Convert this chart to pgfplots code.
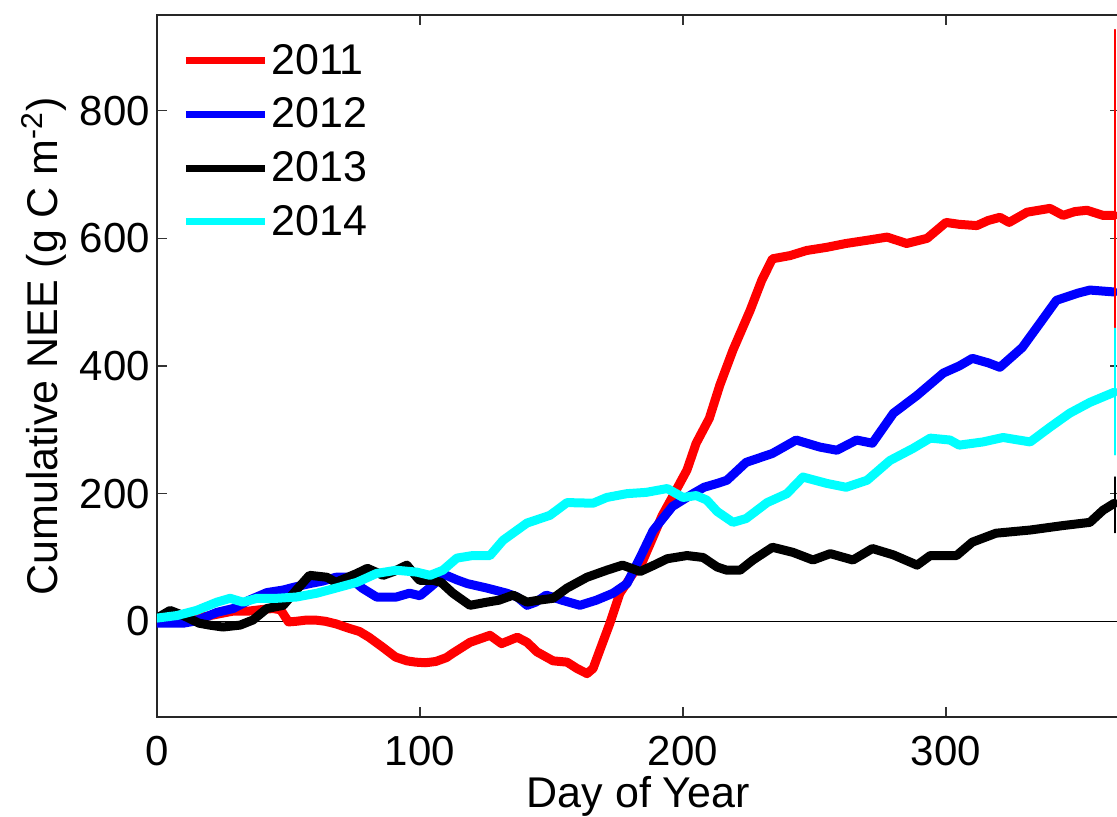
\documentclass[border=0pt]{standalone}
\usepackage{pgfplots}
\pgfplotsset{compat=1.18}
\usepackage{fontspec}
\setmainfont{Liberation Sans}
\newcommand{\ff}{\fontsize{21}{25}\selectfont}
\newcommand{\fl}{\fontsize{21.5}{26}\selectfont}
\definecolor{cy}{RGB}{0,255,255}
\begin{document}
\begin{tikzpicture}
\begin{axis}[
  scale only axis, width=481.3pt, height=351pt,
  xmin=0, xmax=366, ymin=-150, ymax=950,
  xtick={0,100,200,300}, ytick={0,200,400,600,800},
  tick align=inside, major tick length=5pt, tick pos=both,
  axis line style={line width=0.8pt, black!85},
  tick style={line width=0.6pt, black!80},
  ticklabel style={font=\ff},
  xticklabel style={yshift=-6pt},
  label style={font=\fl},
  xlabel style={inner sep=0pt, yshift=-2pt},
  ylabel style={at={(ticklabel cs:0.528)}},
  /pgf/number format/assume math mode=true,
  xlabel={Day of Year},
  ylabel={Cumulative NEE (g C m\textsuperscript{-2})},
  legend style={at={(0,1)}, anchor=north west, xshift=9.5pt, yshift=-10.8pt, draw=none, fill=none, font=\fl, nodes={inner sep=1.5pt}, row sep=7.4pt},
  legend cell align=left,
  legend image code/.code={\draw[#1, line width=3.5pt, line cap=butt] (0pt,0pt) -- (39.5pt,0pt);},
  every axis plot/.append style={line join=round, line cap=round},
]
\addplot[black, line width=0.5pt, forget plot] coordinates {(0,0) (366,0)};
\addplot[red, line width=4.5pt] coordinates {
(0,0) (5,2) (10,4) (15,5) (19,8) (24,12) (29,16) (35,16) (39,18) (44,20) (47,18) (50,-1) (53,0) (57,2) (60,2) (64,0) (68,-4) (73,-11) (77,-16) (80.6,-25) (85.6,-40) (90.7,-56) (95,-62) (98.3,-64) (102,-65) (106,-63) (110,-57) (112.5,-50) (119,-33) (126.6,-22) (131,-35) (137,-25) (140.7,-33) (144.5,-48) (150.6,-62) (155.9,-64) (159.7,-74) (163.5,-82) (165.8,-74) (168.4,-45) (172.2,-3) (176,44) (181,75) (184,88) (188.6,132) (192,165) (196,195) (201.5,237) (205,279) (210,318) (214,370) (219,425) (225.5,487) (230,535) (234,568) (240.7,573) (247,581) (254.7,586) (262,592) (270,597) (277.6,602) (285,592) (292.8,600) (297.7,617) (300,625) (305,622) (311.7,620) (316,628) (320.5,633) (324,625) (330.8,641) (339.5,647) (344.5,636) (349,642) (353.6,644) (359.7,636) (364,636)};
\addplot[blue, line width=4.5pt] coordinates {
(0,-3) (5,-3) (10,-3) (14,0) (17.5,5) (22.8,14) (29,20) (35,33) (41.8,45) (48,49) (51.7,53) (58,59) (63,63) (68,69) (73,69) (78,52) (83.5,38) (91,38) (96,44) (100,40) (103.8,53) (108,68) (110,72) (114,65) (118,59) (125.5,52) (133,44) (137,38) (140.7,25) (144,30) (148,41) (154,33) (160.8,25) (167,33) (173.4,44) (178.7,59) (183.7,100) (188.6,142) (196,180) (203.8,200) (208,210) (213,216) (216.7,221) (224,249) (234,263) (243,284) (252,273) (258.5,268) (266,284) (272,279) (280,326) (289,354) (299,389) (305,400) (310,412) (316,405) (320.5,398) (329,429) (335.7,467) (342,503) (350,514) (354.7,519) (364,516)};
\addplot[black, line width=4.5pt] coordinates {
(0,5) (5,17) (10,9) (16,-3) (20,-6) (25,-9) (31.6,-6) (36.5,2) (41.8,20) (48,25) (53,49) (58,72) (64.6,69) (68,61) (76,75) (80,83) (86,72) (90,78) (95,88) (98.8,69) (100,64) (105,64) (108,61) (112.5,44) (119,25) (125.5,30) (130,33) (135.4,41) (140.7,30) (145,33) (150.6,36) (155.9,52) (163.5,69) (171,80) (177,88) (183.7,78) (189,88) (194,98) (201.5,103) (207.6,100) (213,85) (216.7,80) (221.7,80) (226.6,96) (234,116) (241.8,108) (249.4,96) (256,106) (264.6,96) (272,114) (280,104) (289,88) (294,103) (304,103) (310,124) (319,138) (332,143) (344.5,150) (354.7,155) (359.7,174) (364,185)};
\addplot[cy, line width=4.5pt] coordinates {
(0,5) (7.6,9) (15,17) (22.8,30) (27.8,36) (32.7,30) (38,36) (45.6,36) (53,38) (60.8,44) (68,52) (76,61) (83.5,75) (91,80) (98.8,77) (103.8,72) (108.7,80) (114,99) (120,103) (126.6,103) (131.6,127) (140.7,154) (149.4,166) (155.9,186) (165.8,185) (171,194) (178.7,200) (186,202) (194,208) (200,194) (205,197) (209,190) (213,172) (219,155) (224,161) (232,186) (239.5,200) (245.6,226) (254.7,216) (262,210) (270,221) (278.7,252) (287.5,271) (294,287) (301.5,284) (305,276) (314,281) (321.7,288) (332,281) (339.5,304) (347,326) (354.7,343) (364,359)};
\legend{2011,2012,2013,2014}
\addplot[blue, line width=0.8pt, forget plot] coordinates {(364.3,316) (364.3,716)};
\addplot[red, line width=0.8pt, forget plot] coordinates {(364.3,345) (364.3,927)};
\addplot[cy, line width=0.8pt, forget plot] coordinates {(364.3,261) (364.3,459)};
\addplot[black, line width=0.8pt, forget plot] coordinates {(364.3,139) (364.3,226)};
\coordinate (BL) at (rel axis cs:0,0);
\end{axis}
\pgfresetboundingbox
\useasboundingbox (BL) ++(-78.5pt,-49.5pt) rectangle ++(558.5pt,408pt);
\end{tikzpicture}
\end{document}
